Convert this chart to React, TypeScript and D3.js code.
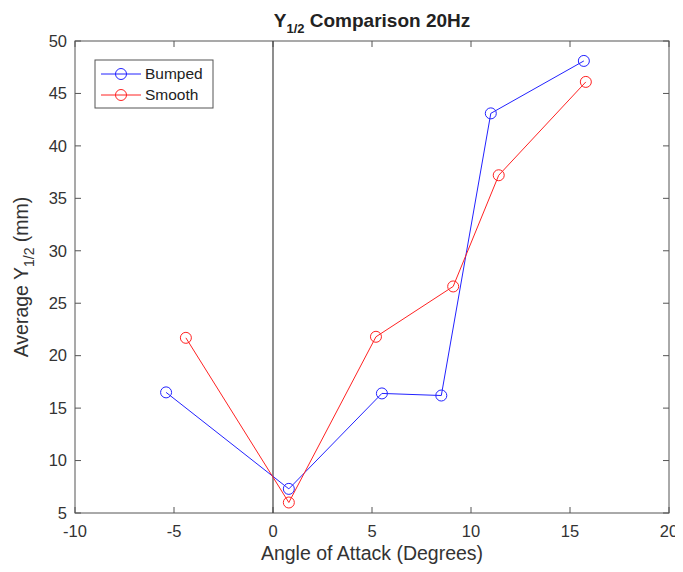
import React, { useEffect, useRef } from "react";
import * as d3 from "d3";

const bumpedX = [-5.4, 0.8, 5.5, 8.5, 11.0, 15.7];
const bumpedY = [16.5, 7.3, 16.4, 16.2, 43.1, 48.1];
const smoothX = [-4.4, 0.8, 5.2, 9.1, 11.4, 15.8];
const smoothY = [21.7, 6.0, 21.8, 26.6, 37.2, 46.1];
const xTicks = [-10, -5, 0, 5, 10, 15, 20];
const yTicks = [5, 10, 15, 20, 25, 30, 35, 40, 45, 50];

const series = [
  { name: "Bumped", xs: bumpedX, ys: bumpedY, color: "#2222ff" },
  { name: "Smooth", xs: smoothX, ys: smoothY, color: "#ff2222" },
];

export default function App() {
  const ref = useRef<SVGSVGElement>(null);

  useEffect(() => {
    const svg = d3.select(ref.current);
    svg.selectAll("*").remove();

    const left = 67, right = 661, top = 33, bottom = 505;
    const x = d3.scaleLinear().domain([-10, 20]).range([left, right]);
    const y = d3.scaleLinear().domain([5, 50]).range([bottom, top]);
    const axisColor = "#555";
    const font = "'Liberation Sans', Arial, sans-serif";

    const g = svg.append("g");

    // box
    g.append("rect")
      .attr("x", left).attr("y", top)
      .attr("width", right - left).attr("height", bottom - top)
      .attr("fill", "white").attr("stroke", axisColor).attr("stroke-width", 1);

    // ticks (inward, all sides)
    xTicks.forEach((t) => {
      g.append("line").attr("x1", x(t)).attr("x2", x(t)).attr("y1", bottom).attr("y2", bottom - 6).attr("stroke", axisColor);
      g.append("line").attr("x1", x(t)).attr("x2", x(t)).attr("y1", top).attr("y2", top + 6).attr("stroke", axisColor);
      g.append("text").attr("x", x(t)).attr("y", bottom + 24)
        .attr("text-anchor", "middle").attr("font-family", font).attr("font-size", 16.5).attr("fill", "#333")
        .text(t);
    });
    yTicks.forEach((t) => {
      g.append("line").attr("x1", left).attr("x2", left + 6).attr("y1", y(t)).attr("y2", y(t)).attr("stroke", axisColor);
      g.append("line").attr("x1", right).attr("x2", right - 6).attr("y1", y(t)).attr("y2", y(t)).attr("stroke", axisColor);
      g.append("text").attr("x", left - 8).attr("y", y(t)).attr("dy", "0.35em")
        .attr("text-anchor", "end").attr("font-family", font).attr("font-size", 16.5).attr("fill", "#333")
        .text(t);
    });

    // zero line
    g.append("line").attr("x1", x(0)).attr("x2", x(0)).attr("y1", top).attr("y2", bottom)
      .attr("stroke", "#444").attr("stroke-width", 1.2);

    // series
    const line = d3.line<[number, number]>().x((d) => x(d[0])).y((d) => y(d[1]));
    series.forEach((s) => {
      const pts: [number, number][] = s.xs.map((v, i) => [v, s.ys[i]]);
      g.append("path").attr("d", line(pts)).attr("fill", "none").attr("stroke", s.color).attr("stroke-width", 1);
      g.selectAll(null).data(pts).join("circle")
        .attr("cx", (d) => x(d[0])).attr("cy", (d) => y(d[1])).attr("r", 5.5)
        .attr("fill", "none").attr("stroke", s.color).attr("stroke-width", 1);
    });

    // legend
    const lg = g.append("g").attr("transform", "translate(87,52)");
    lg.append("rect").attr("width", 118).attr("height", 48)
      .attr("fill", "white").attr("stroke", axisColor);
    series.forEach((s, i) => {
      const yy = 14 + i * 21;
      lg.append("line").attr("x1", 6).attr("x2", 46).attr("y1", yy).attr("y2", yy).attr("stroke", s.color);
      lg.append("circle").attr("cx", 26).attr("cy", yy).attr("r", 5.5).attr("fill", "none").attr("stroke", s.color);
      lg.append("text").attr("x", 50).attr("y", yy).attr("dy", "0.35em")
        .attr("font-family", font).attr("font-size", 15.5).attr("fill", "#222").text(s.name);
    });

    // title
    const title = svg.append("text").attr("x", x(5)).attr("y", 19)
      .attr("text-anchor", "middle").attr("font-family", font).attr("font-size", 19)
      .attr("font-weight", "bold").attr("fill", "#222");
    title.append("tspan").text("Y");
    title.append("tspan").attr("font-size", 13).attr("dy", 6).text("1/2");
    title.append("tspan").attr("dy", -6).text(" Comparison 20Hz");

    // x label
    svg.append("text").attr("x", x(5)).attr("y", 552)
      .attr("text-anchor", "middle").attr("font-family", font).attr("font-size", 19.5).attr("fill", "#333")
      .text("Angle of Attack (Degrees)");

    // y label
    const yl = svg.append("text").attr("transform", `translate(20,${(top + bottom) / 2}) rotate(-90)`)
      .attr("text-anchor", "middle").attr("font-family", font).attr("font-size", 19.5).attr("fill", "#333");
    yl.append("tspan").text("Average Y");
    yl.append("tspan").attr("font-size", 14).attr("dy", 6).text("1/2");
    yl.append("tspan").attr("dy", -6).text(" (mm)");
  }, []);

  return <svg ref={ref} width={675} height={564} style={{ display: "block" }} />;
}
